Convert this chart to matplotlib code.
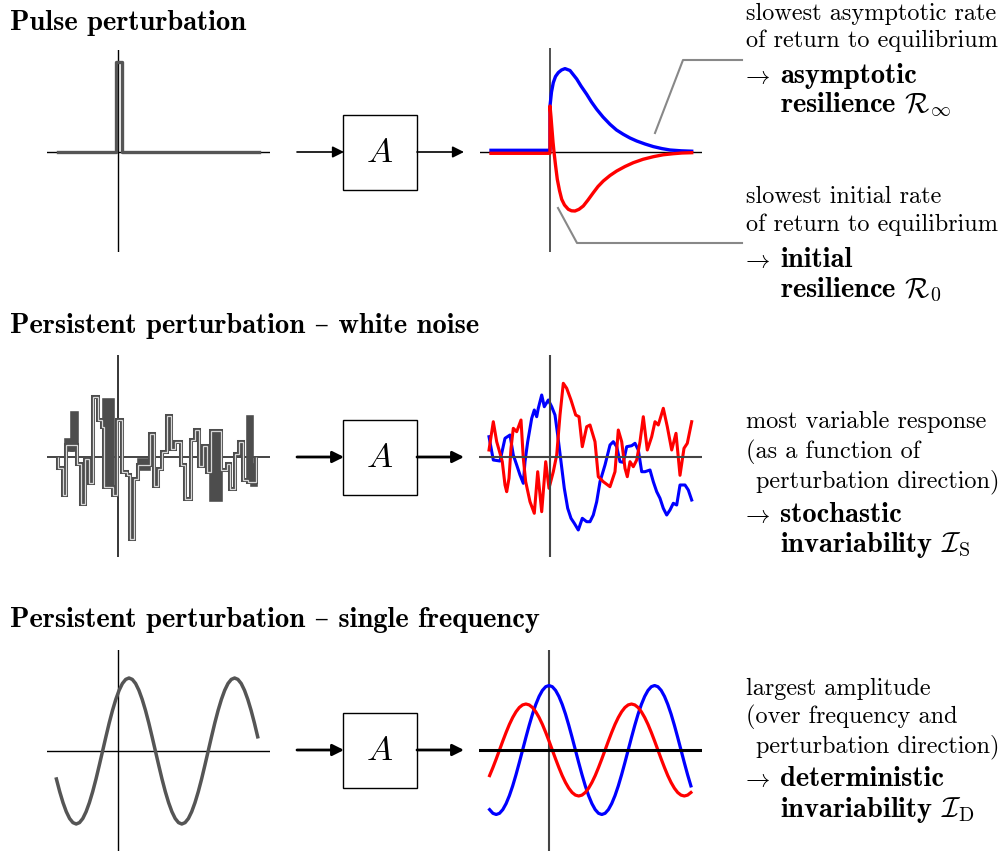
import matplotlib
matplotlib.use("Agg")
import matplotlib.pyplot as plt
from matplotlib.patches import Rectangle

W, H = 1008, 851

plt.rcParams["mathtext.fontset"] = "cm"
plt.rcParams["font.family"] = ["cmr10", "DejaVu Serif"]
plt.rcParams["axes.unicode_minus"] = False

# --- row 1: pulse perturbation (units: px offsets from the axis origin) ---
pulse_in_x = [-60, -2.5, -2.5, 3.5, 3.5, 141]
pulse_in_y = [0, 0, 90, 90, 0, 0]

pulse_blue_x = [-59, 0, 0, 1.5, 3.3, 5.5, 8.3, 11.5, 15, 20, 26.7, 31, 36.7, 41.5, 46.7,
                53, 60, 66.5, 73.3, 80, 86.7, 95, 103.3, 112, 120, 131, 141.7]
pulse_blue_y = [1.7, 1.7, 46, 60, 69.4, 75.5, 79.4, 82, 83.4, 81.5, 73, 66, 57.7, 50, 42.7,
                35, 27.7, 22, 17.7, 14, 11, 8, 5.4, 3.4, 2, 1.2, 0.8]
pulse_red_x = [-59, 0, 0, 1, 1.7, 3, 4, 5.5, 7.3, 9.5, 11.7, 14.5, 18.3, 21.5, 25, 29,
               33.3, 38, 43.3, 48, 53.3, 60, 66.7, 75, 83.3, 93, 103.3, 113, 123.3, 132, 141.7]
pulse_red_y = [-1.3, -1.3, 46, 35, 26, 10, 0, -13, -27.3, -38.5, -47.3, -53, -57.3, -58.8,
               -59, -57.3, -54, -48, -40.7, -34.5, -29, -23.5, -19, -14.5, -10.7, -7.3,
               -4.7, -2.8, -1.7, -1, -0.7]

# --- row 2: white noise ---
noise_edges = [-60, -55, -52, -41, -37, -33, -29, -25, -20, -16, -14, -5, -1, 4, 9, 12, 16,
               20, 32, 36, 40, 44, 49, 53, 57, 63, 67, 73, 77, 81, 85, 89, 93, 103, 109,
               112, 117, 121, 125, 130, 138]
noise_vals = [-11, -38, 12, -7, -47, -2, -26, 60, 37, 30, -30, -38, 37, -15, -18, -82, -22,
              -8, 23, -29, -12, 5, 41, 8, 15, -8, -42, 17, 27, -9, 11, -15, 26, -13, -7,
              -32, 3, 15, -23, -25]
# dense (rapidly switching) stretches that render as solid blocks
block_x0 = [-52, -46, -14, 21, 93, 130, 134]
block_x1 = [-46, -41, -5, 31, 103, 134, 138]
block_lo = [7, 7, -30, -12, -43, -25, -28]
block_hi = [17, 44, 57, -3, 26, 40, -8]

noise_blue_x = [-61, -56.7, -50, -45, -40, -36.7, -33.3, -30, -26.7, -25, -22.3, -18.3,
                -15.7, -13.3, -11.7, -8.3, -5.7, -1.7, 1.7, 5, 7.7, 11, 14.3, 17.7, 21,
                24.3, 28.3, 32.3, 36.7, 40, 43.3, 46.7, 50, 55, 60, 63.3, 66.7, 70, 73.3,
                76.7, 81.7, 85, 88.3, 91.7, 95, 100, 103.3, 106.7, 110, 113.3, 116.7, 120,
                123.3, 126.7, 130, 135, 138.3, 141.7]
noise_blue_y = [20.3, -3, -4, 18.7, 22, 2, -8, -18, -26.3, -4.7, 15.3, 38.7, 47, 40.3, 48.7,
                62, 50.3, 57, 50.3, 42, 22, -4.7, -31.3, -51.3, -61.3, -66.3, -73, -61.3,
                -64.7, -64.7, -58, -44.7, -24.7, -8, 12, 15.3, 10.3, -4.7, -5.3, 10.3, 11.3,
                13.7, 7, -14.7, -14.7, -13, -24.7, -34.7, -41.3, -51.3, -58, -53, -46.3,
                -48, -28, -28, -33, -43]
noise_red_x = [-61, -56.7, -53.3, -50, -47.7, -45, -43.3, -41, -39, -36.7, -33.3, -29,
               -26.7, -24.3, -20, -15.7, -12.3, -8.3, -4.3, -1, 3.3, 6.7, 10, 13.3, 16.7,
               21, 25.7, 29, 32.3, 36.7, 40, 45, 48.3, 53.3, 60, 65, 68.3, 71.7, 75, 77.3,
               80, 83.3, 86.7, 90, 93.3, 97.3, 101.7, 105, 108.3, 113.3, 117.3, 121.7, 126,
               130, 134, 137.3, 141.7]
noise_red_y = [7, 35.3, 15.3, 3.7, -4.7, -28, -34.7, -21.3, 8.7, 28.7, 25.3, 37, -1.3,
               -24.7, -44.7, -56.3, -14.7, -54.7, -4.7, -31.3, -14.7, 2, 42, 73.7, 68.7, 57,
               42, 40.3, 10.3, 30.3, 32, 15.3, -19.7, -24.7, -29.7, -14.7, 27, 15.3, -11.3,
               -19.7, -4.7, -9.7, -3, 15.3, 40.3, 7, 20.3, 35.3, 32, 48.7, 30.3, 7, 23.7,
               -18.3, 8.7, 13.7, 35.3]

# --- row 3: single frequency ---
sine_in_x = [-61.6, -58.3, -55, -51.7, -48.4, -45.1, -41.8, -38.5, -35.2, -31.9, -28.6,
             -25.3, -22, -18.7, -15.4, -12.1, -8.8, -5.5, -2.2, 1.1, 4.4, 7.7, 11, 14.3,
             17.6, 20.9, 24.2, 27.5, 30.8, 34.1, 37.4, 40.7, 44, 47.3, 50.6, 53.9, 57.2,
             60.5, 63.8, 67.1, 70.4, 73.7, 77, 80.3, 83.6, 86.9, 90.2, 93.5, 96.8, 100.1,
             103.4, 106.7, 110, 113.3, 116.6, 119.9, 123.2, 126.5, 129.8, 133.1, 136.4, 139.7]
sine_in_y = [-28, -40.6, -51.6, -60.7, -67.5, -71.6, -73, -71.6, -67.5, -60.7, -51.6,
             -40.6, -28, -14.2, 0, 14.2, 28, 40.6, 51.6, 60.7, 67.5, 71.6,
             73, 71.6, 67.5, 60.7, 51.6, 40.6, 28, 14.2, 0, -14.2, -28, -40.6, -51.6,
             -60.7, -67.5, -71.6, -73, -71.6, -67.5, -60.7, -51.6, -40.6, -28, -14.2, 0,
             14.2, 28, 40.6, 51.6, 60.7, 67.5, 71.6,
             73, 71.6, 67.5, 60.7, 51.6, 40.6, 28, 14.2]
sine_out_x = [-59.4, -56.1, -52.8, -49.5, -46.2, -42.9, -39.6, -36.3, -33, -29.7, -26.4,
              -23.1, -19.8, -16.5, -13.2, -9.9, -6.6, -3.3, 0, 3.3, 6.6, 9.9, 13.2, 16.5,
              19.8, 23.1, 26.4, 29.7, 33, 36.3, 39.6, 42.9, 46.2, 49.5, 52.8, 56.1, 59.4,
              62.7, 66, 69.3, 72.6, 75.9, 79.2, 82.5, 85.8, 89.1, 92.4, 95.7, 99, 102.3,
              105.6, 108.9, 112.2, 115.5, 118.8, 122.1, 125.4, 128.7, 132, 135.3, 138.6, 141.9]
sine_blue_y = [-59.6, -63.3, -64.5, -63.3, -59.6, -53.6, -45.6, -35.9, -24.7, -12.6, 0,
               12.6, 24.7, 35.9, 45.6, 53.6, 59.6, 63.3,
               64.5, 63.3, 59.6, 53.6, 45.6, 35.9, 24.7, 12.6, 0, -12.6, -24.7, -35.9,
               -45.6, -53.6, -59.6, -63.3, -64.5, -63.3, -59.6, -53.6, -45.6, -35.9, -24.7,
               -12.6, 0, 12.6, 24.7, 35.9, 45.6, 53.6, 59.6, 63.3,
               64.5, 63.3, 59.6, 53.6, 45.6, 35.9, 24.7, 12.6, 0, -12.6, -24.7, -35.9]
sine_red_y = [-25.6, -17.6, -9, 0, 9, 17.6, 25.6, 32.5, 38.2, 42.5, 45.1,
              46, 45.1, 42.5, 38.2, 32.5, 25.6, 17.6, 9, 0, -9, -17.6, -25.6, -32.5, -38.2,
              -42.5, -45.1, -46, -45.1, -42.5, -38.2, -32.5, -25.6, -17.6, -9, 0, 9, 17.6,
              25.6, 32.5, 38.2, 42.5, 45.1,
              46, 45.1, 42.5, 38.2, 32.5, 25.6, 17.6, 9, 0, -9, -17.6, -25.6, -32.5, -38.2,
              -42.5, -45.1, -46, -45.1, -42.5]

TITLES = ["Pulse perturbation",
          "Persistent perturbation \u2013 white noise",
          "Persistent perturbation \u2013 single frequency"]

GRAY = "#555555"
BLUE = "#0000ff"
RED = "#ff0000"

fig = plt.figure(figsize=(W / 100, H / 100), dpi=100)
bg = fig.add_axes([0, 0, 1, 1])
bg.set_xlim(0, W)
bg.set_ylim(H, 0)
bg.axis("off")


def panel(ox, oy, left, right, top, bottom):
    ax = fig.add_axes([left / W, 1 - bottom / H, (right - left) / W, (bottom - top) / H])
    ax.set_xlim(left - ox, right - ox)
    ax.set_ylim(oy - bottom, oy - top)
    ax.axis("off")
    return ax


def label(x, y, s, bold=False):
    # cmb10 is narrower than LaTeX's bold-extended face, so it is set a bit larger
    fam = ["cmb10" if bold else "cmr10", "DejaVu Serif"]
    bg.text(x, y, s, fontsize=20.5 if bold else 17.5, family=fam, ha="left", va="baseline")


def block_arrows(cy, lw):
    bg.add_patch(Rectangle((343, cy - 37.5), 74, 75, fill=False, lw=1.0, ec="k"))
    bg.text(380, cy + 1, r"$A$", fontsize=25, ha="center", va="center")
    for x0, x1 in [(297, 344), (417, 464)]:
        bg.annotate("", xy=(x1, cy), xytext=(x0, cy),
                    arrowprops=dict(arrowstyle="-|>", mutation_scale=17, lw=lw,
                                    color="k", shrinkA=0, shrinkB=0))


# row 1
ax = panel(118, 152, 47, 270, 50, 252)
ax.axhline(0, color="k", lw=1.0)
ax.axvline(0, color="k", lw=1.0)
ax.plot(pulse_in_x, pulse_in_y, color=GRAY, lw=2.4, clip_on=False)

ax = panel(550, 152, 480, 702, 48, 252)
ax.axhline(0, color="k", lw=1.0)
ax.axvline(0, color="#333333", lw=1.2)
ax.plot(pulse_blue_x, pulse_blue_y, color=BLUE, lw=2.4, clip_on=False)
ax.plot(pulse_red_x, pulse_red_y, color=RED, lw=2.4, clip_on=False)

block_arrows(152, 1.2)

# row 2
ax = panel(118, 457, 47, 270, 355, 557)
ax.axhline(0, color="#444444", lw=1.4)
ax.axvline(0, color="k", lw=1.1)
ax.bar(block_x0, [h - l for h, l in zip(block_hi, block_lo)], bottom=block_lo,
       width=[b - a for a, b in zip(block_x0, block_x1)], align="edge",
       color="#4d4d4d", ec="#4d4d4d", lw=2.6, zorder=3)
ax.stairs(noise_vals, noise_edges, color="#4d4d4d", lw=2.9, zorder=3)
ax.stairs(noise_vals, noise_edges, color="#d9d9d9", lw=0.9, zorder=4)

ax = panel(550, 457, 479, 702, 355, 557)
ax.plot(noise_blue_x, noise_blue_y, color=BLUE, lw=2.2, clip_on=False)
ax.plot(noise_red_x, noise_red_y, color=RED, lw=2.2, clip_on=False)
ax.axhline(0, color="#444444", lw=1.5)
ax.axvline(0, color="#444444", lw=1.5)

block_arrows(457, 2.0)

# row 3
ax = panel(118, 751, 47, 270, 650, 851)
ax.axhline(0, color="k", lw=1.0)
ax.axvline(0, color="k", lw=1.0)
ax.plot(sine_in_x, sine_in_y, color=GRAY, lw=2.5, clip_on=False)

ax = panel(549, 750, 479, 702, 650, 851)
ax.axvline(0, color="#444444", lw=1.5)
ax.plot(sine_out_x, sine_blue_y, color=BLUE, lw=2.3, clip_on=False)
ax.plot(sine_out_x, sine_red_y, color=RED, lw=2.3, clip_on=False)
ax.axhline(0, color="k", lw=2.2)

block_arrows(750, 2.0)

# connectors to the annotations
bg.plot([655, 683, 742], [133, 60, 60], color="#888888", lw=1.5)
bg.plot([558, 577, 742], [208, 243, 243], color="#888888", lw=1.5)

# titles
label(10, 30, TITLES[0], bold=True)
label(10, 333, TITLES[1], bold=True)
label(10, 627, TITLES[2], bold=True)

ARROW = r"$\rightarrow$"

# row 1 annotations
label(746, 20, "slowest asymptotic rate")
label(746, 47, "of return to equilibrium")
label(741, 83, ARROW)
label(780, 83, "asymptotic", bold=True)
label(780, 112, r"resilience $\mathcal{R}_\infty$", bold=True)
label(746, 203, "slowest initial rate")
label(746, 231, "of return to equilibrium")
label(741, 267, ARROW)
label(780, 267, "initial", bold=True)
label(780, 297, r"resilience $\mathcal{R}_0$", bold=True)

# row 2 annotations
label(746, 428, "most variable response")
label(746, 458, "(as a function of")
label(756, 487, "perturbation direction)")
label(741, 522, ARROW)
label(780, 522, "stochastic", bold=True)
label(780, 552, r"invariability $\mathcal{I}_\mathrm{S}$", bold=True)

# row 3 annotations
label(746, 695, "largest amplitude")
label(746, 723, "(over frequency and")
label(756, 752, "perturbation direction)")
label(741, 786, ARROW)
label(780, 786, "deterministic", bold=True)
label(780, 817, r"invariability $\mathcal{I}_\mathrm{D}$", bold=True)

fig.savefig("out.png", dpi=100)
